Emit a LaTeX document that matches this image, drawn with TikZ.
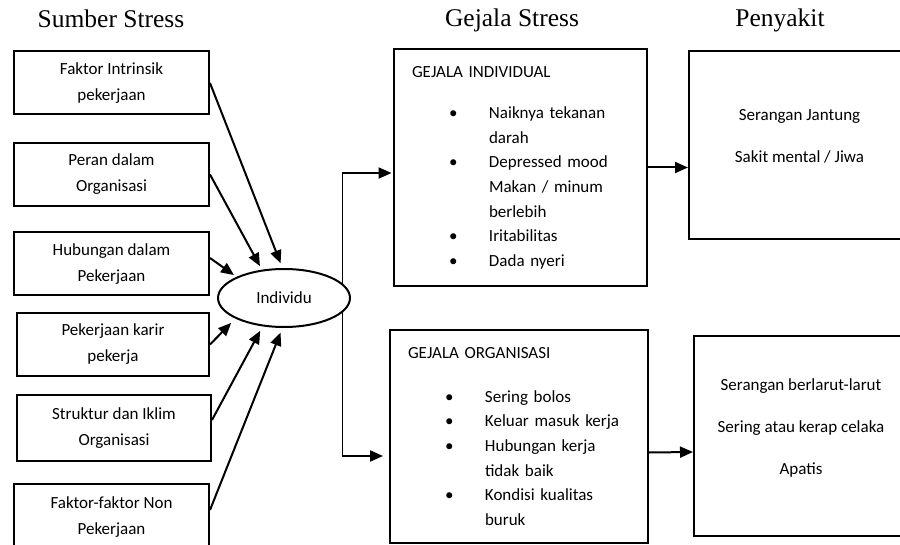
\documentclass[tikz,border=0pt]{standalone}
\usepackage{fontspec}
\setmainfont{Carlito}
\newfontfamily\titlefont{Liberation Serif}
\usetikzlibrary{arrows.meta,shapes.geometric}

\newcommand{\bulitem}{\hspace*{37pt}\makebox[40pt][l]{\textbullet}}
\newcommand{\bulcont}{\hspace*{77pt}}

\begin{document}
\begin{tikzpicture}[x=1pt,y=-1pt,
  every node/.style={font=\fontsize{17}{26}\selectfont},
  head/.style={font=\titlefont\fontsize{25.5}{30}\selectfont, anchor=base},
  srcbox/.style={draw, line width=2pt, minimum width=195pt, minimum height=63pt, align=center, inner sep=0pt},
  gejbox/.style={draw, line width=2pt, align=left, inner xsep=18pt, inner ysep=0pt, font=\fontsize{17}{24.6}\selectfont},
  sakbox/.style={draw, line width=2pt, inner sep=0pt},
  saktext/.style={align=center, font=\fontsize{17}{42}\selectfont},
  arr/.style={line width=2pt, -{Triangle[length=13pt,width=11pt]}}]

\useasboundingbox (0,0) rectangle (900,545);

% judul
\node[head] (t1) at (111,28) {Sumber Stress};
\node[head] (t2) at (512,27) {Gejala Stress};
\node[head] (t3) at (780,27) {Penyakit};

% sumber stress
\node[srcbox] (b1) at (111.5,83) {Faktor Intrinsik\\pekerjaan};
\node[srcbox] (b2) at (111.5,174.5) {Peran dalam\\Organisasi};
\node[srcbox] (b3) at (111.5,264) {Hubungan dalam\\Pekerjaan};
\node[srcbox, minimum width=192pt] (b4) at (113,344.5) {Pekerjaan karir\\pekerja};
\node[srcbox, minimum width=194pt, minimum height=66pt] (b5) at (114,428) {Struktur dan Iklim\\Organisasi};
\node[srcbox, minimum height=66pt] (b6) at (111.5,517) {Faktor-faktor Non\\Pekerjaan};

% cabang dari individu
\coordinate (sp1) at (342,173);
\coordinate (sp2) at (342,456);
\draw[line width=1pt] (sp1) -- (sp2);

\node[ellipse, draw, line width=2pt, fill=white, minimum width=132pt, minimum height=58pt, inner sep=0pt] (ind) at (284,298) {Individu};

\draw[arr, shorten >=5pt] (b1.east) -- (ind.93);
\draw[arr, shorten >=4pt] (b2.east) -- (ind.128);
\draw[arr, shorten >=3pt] ([yshift=6pt]b3.east) -- (ind.156);
\draw[arr, shorten >=6pt] (b4.east) -- (ind.203);
\draw[arr, shorten >=5pt] ([yshift=8pt]b5.east) -- (ind.233);
\draw[arr, shorten >=5pt] ([yshift=7pt]b6.east) -- (ind.267);

% gejala
\node[gejbox, text width=217pt, minimum width=253pt, minimum height=237pt] (m1) at (520.5,167.5) {GEJALA INDIVIDUAL\\[17pt]
\bulitem Naiknya tekanan\\
\bulcont darah\\
\bulitem Depressed mood\\
\bulcont Makan / minum\\
\bulcont berlebih\\
\bulitem Iritabilitas\\
\bulitem Dada nyeri};
\node[gejbox, text width=222pt, minimum width=258pt, minimum height=213pt] (m2) at (519,436.5) {GEJALA ORGANISASI\\[19pt]
\bulitem Sering bolos\\
\bulitem Keluar masuk kerja\\
\bulitem Hubungan kerja\\
\bulcont tidak baik\\
\bulitem Kondisi kualitas\\
\bulcont buruk};

\draw[arr, shorten >=1.5pt] (sp1) -- (m1.west |- sp1);
\draw[arr, shorten >=6pt] (sp2) -- (m2.west |- sp2);

% penyakit
\node[sakbox, minimum width=221pt, minimum height=188pt] (r1) at (799.5,145) {};
\node[saktext, yshift=9pt] (r1t) at (r1.center) {Serangan Jantung\\Sakit mental / Jiwa};
\node[sakbox, minimum width=214pt, minimum height=200pt] (r2) at (801,436) {};
\node[saktext, yshift=8.5pt] (r2t) at (r2.center) {Serangan berlarut-larut\\Sering atau kerap celaka\\Apatis};

\draw[arr] (m1.east) -- (r1.west |- m1.east);
\draw[arr] ([yshift=-16pt]m2.east) -- ([yshift=-16pt]r2.west);

\end{tikzpicture}
\end{document}
